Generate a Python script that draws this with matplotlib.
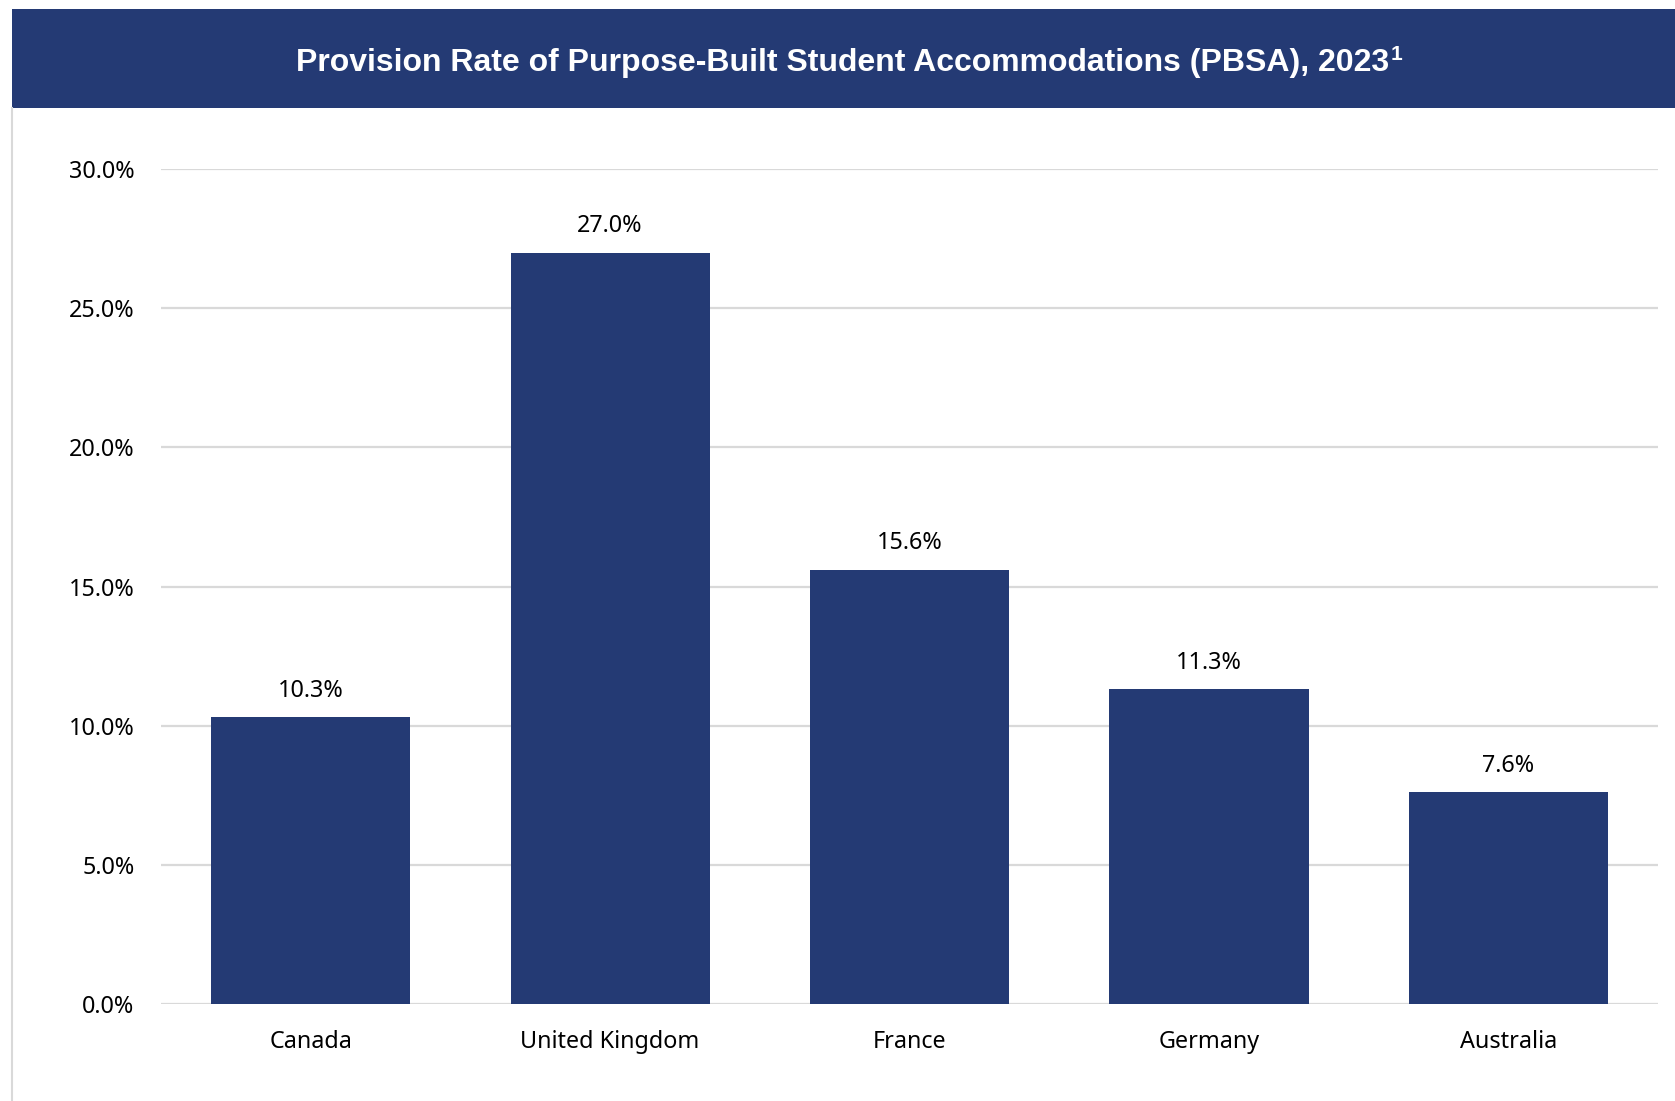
import matplotlib.pyplot as plt
from matplotlib.patches import Rectangle
from matplotlib.lines import Line2D
from matplotlib.ticker import FuncFormatter

countries = ['Canada', 'United Kingdom', 'France', 'Germany', 'Australia']
rates = [10.3, 27.0, 15.6, 11.3, 7.6]
y_ticks = [0, 5, 10, 15, 20, 25, 30]

navy = '#243a74'
body_font = 'Noto Sans'

fig = plt.figure(figsize=(16.75, 11.01), dpi=100)

# header banner and left frame edge
fig.patches.append(Rectangle((0.0072, 0.9019), 1.0, 0.0899, transform=fig.transFigure,
                             facecolor=navy, edgecolor='none', zorder=0))
fig.lines.append(Line2D([0.0072, 0.0072], [0.0, 0.9019], transform=fig.transFigure,
                        color='#d9d9d9', lw=1.5))
title = fig.text(0.503, 0.9425,
                 'Provision Rate of Purpose-Built Student Accommodations (PBSA), 2023',
                 ha='center', va='center', color='white', fontsize=23, fontweight='bold',
                 family='Liberation Sans')
fig.canvas.draw()
tb = title.get_window_extent().transformed(fig.transFigure.inverted())
# superscript footnote marker after the year
fig.text(tb.x1 + 0.0008, tb.y1 + 0.003, '1', ha='left', va='top', color='white',
         fontsize=15, fontweight='bold', family='Liberation Sans')

ax = fig.add_axes([0.0961, 0.0881, 0.8938, 0.7584])
x = range(len(countries))
bars = ax.bar(x, rates, width=0.665, color=navy, zorder=3)

ax.set_ylim(0, 30)
ax.set_xlim(-0.5, len(countries) - 0.5)
ax.set_yticks(y_ticks)
ax.yaxis.set_major_formatter(FuncFormatter(lambda v, p: f'{v:.1f}%'))
ax.set_xticks(list(x))
ax.set_xticklabels(countries)
ax.grid(axis='y', color='#d9d9d9', lw=1.6, zorder=0)
ax.tick_params(axis='both', length=0, labelsize=16.8, colors='black')
ax.tick_params(axis='y', pad=19)
ax.tick_params(axis='x', pad=19)
for lbl in ax.get_xticklabels() + ax.get_yticklabels():
    lbl.set_family(body_font)
for s in ax.spines.values():
    s.set_visible(False)

for b, v in zip(bars, rates):
    ax.annotate(f'{v:.1f}%', (b.get_x() + b.get_width() / 2, v), xytext=(0, 10.5),
                textcoords='offset points', ha='center', va='bottom',
                fontsize=16.8, family=body_font)

fig.savefig('out.png', dpi=100)
